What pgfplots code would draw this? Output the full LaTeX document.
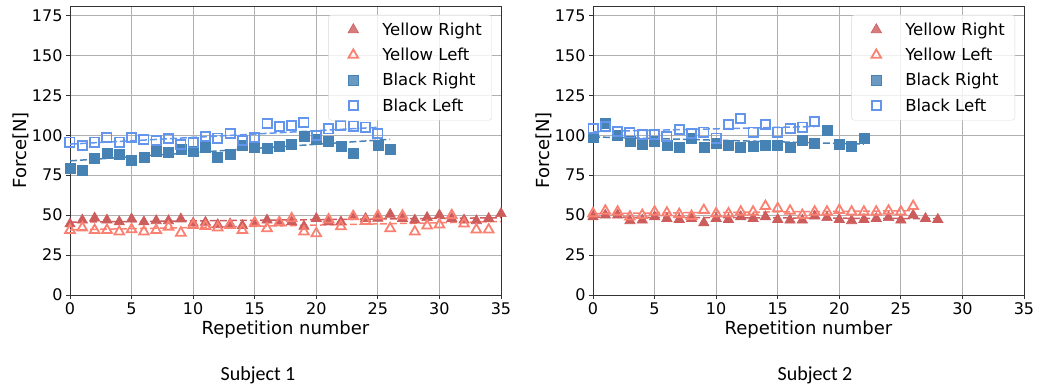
\documentclass[border=0pt]{standalone}
\usepackage{pgfplots}
\pgfplotsset{compat=1.18}
\usepackage{fontspec}
\setmainfont{DejaVu Sans}
\newfontfamily\subjfont{Carlito}

\definecolor{yr}{HTML}{CD5C5C}
\definecolor{yl}{HTML}{FA8072}
\definecolor{br}{HTML}{4682B4}
\definecolor{bl}{HTML}{6495ED}
\definecolor{gridc}{HTML}{B0B0B0}

\pgfplotsset{
  forceaxis/.style={
    scale only axis, width=431pt, height=289pt,
    xmin=0, xmax=35, ymin=0, ymax=181,
    xtick={0,5,...,35}, ytick={0,25,...,175},
    grid=major, major grid style={gridc, line width=0.8pt},
    axis line style={black!80, line width=0.9pt},
    tick align=outside, major tick length=4pt,
    tick style={black!80, line width=0.8pt},
    xtick pos=bottom, ytick pos=left,
    /pgf/number format/assume math mode=true,
    tick label style={font=\fontsize{16}{19}\selectfont},
    xlabel={Repetition number}, ylabel={Force[N]},
    every axis x label/.style={at={(axis description cs:0.5,0)}, anchor=center, yshift=-35pt},
    every axis y label/.style={at={(axis description cs:-0.1137,0.5)}, rotate=90, anchor=center},
    label style={font=\fontsize{18}{21}\selectfont},
    legend style={at={(axis description cs:1,1)}, anchor=north east,
      xshift=-9pt, yshift=-9pt, draw=black!15, rounded corners=3pt,
      fill=white, fill opacity=0.8, text opacity=1,
      font=\fontsize{16.5}{19}\selectfont,
      inner xsep=8pt, inner ysep=5.5pt, row sep=7.3pt},
    legend cell align=left,
    legend image code/.code={%
      \path[draw=none, fill=none] (0pt,-4pt) rectangle (44pt,4pt);
      \draw[mark repeat=2,mark phase=2] plot coordinates {(0pt,0pt)(17pt,0pt)(34pt,0pt)};},
  },
  trend/.style={dash pattern=on 7pt off 3pt, line width=1.5pt, forget plot},
  yright/.style={only marks, mark=triangle*, mark size=6pt, mark options={draw=yr, fill=yr, line width=0.6pt}},
  yleft/.style={only marks, mark=triangle, mark size=5.6pt, mark options={draw=yl, line width=1.8pt}},
  bright/.style={only marks, mark=square*, mark size=5pt, mark options={draw=br, fill=br, line width=0.6pt}},
  bleft/.style={only marks, mark=square, mark size=4.6pt, mark options={draw=bl, line width=1.8pt}},
}

\begin{document}
\begin{tikzpicture}
\useasboundingbox (0,0) rectangle (1037pt,387pt);

% ---------------- Subject 1 ----------------
\begin{axis}[forceaxis, at={(70pt,92pt)}, anchor=south west]
\addplot[yr, trend] coordinates {(0,45.6) (35,48.4)};
\addplot[yl, trend] coordinates {(0,40.8) (35,46.0)};
\addplot[br, trend] coordinates {(0,84.0) (26,97.5)};
\addplot[bl, trend] coordinates {(0,94.5) (25,105.0)};

\addplot[yright] coordinates {
(0,44.5) (1,46.9) (2,48.2) (3,46.9) (4,45.8) (5,47.6) (6,45.8) (7,46.5) (8,46.5)
(9,47.6) (10,45.0) (11,45.5) (12,44.0) (13,44.5) (14,43.5) (15,45.0) (16,46.9)
(17,45.2) (18,45.8) (19,43.0) (20,47.9) (21,45.8) (22,45.8) (23,49.0) (24,47.9)
(25,48.0) (26,50.5) (27,47.9) (28,46.9) (29,48.5) (30,50.0) (31,47.9) (32,46.9)
(33,46.5) (34,47.9) (35,51.0)};
\addlegendentry{Yellow Right}
\addplot[yleft] coordinates {
(0,40.6) (1,42.1) (2,40.6) (3,40.6) (4,39.6) (5,41.0) (6,39.6) (7,40.6) (8,42.7)
(9,38.9) (10,43.7) (11,43.1) (12,42.1) (13,43.7) (14,40.6) (15,45.2) (16,41.7)
(17,45.5) (18,47.9) (19,39.6) (20,38.5) (21,47.2) (22,42.9) (23,49.3) (24,46.3)
(25,49.6) (26,41.7) (27,49.6) (28,39.6) (29,43.4) (30,44.0) (31,49.9) (32,44.6)
(33,40.9) (34,40.9)};
\addlegendentry{Yellow Left}
\addplot[bright] coordinates {
(0,79.2) (1,78.3) (2,85.6) (3,88.5) (4,87.9) (5,84.3) (6,86.5) (7,89.8) (8,89.2)
(9,91.5) (10,90.0) (11,92.7) (12,86.5) (13,88.0) (14,94.0) (15,92.2) (16,91.8)
(17,92.9) (18,94.6) (19,99.2) (20,97.3) (21,96.2) (22,92.9) (23,88.5) (25,93.7)
(26,91.1)};
\addlegendentry{Black Right}
\addplot[bleft] coordinates {
(0,95.8) (1,93.8) (2,95.8) (3,98.5) (4,95.8) (5,98.5) (6,97.3) (7,96.9) (8,97.9)
(9,94.4) (10,95.2) (11,99.4) (12,98.3) (13,101.0) (14,96.6) (15,98.6) (16,107.3)
(17,105.4) (18,106.0) (19,108.1) (20,99.8) (21,104.0) (22,106.0) (23,105.8)
(24,105.2) (25,101.0)};
\addlegendentry{Black Left}
\end{axis}

% ---------------- Subject 2 ----------------
\begin{axis}[forceaxis, at={(593pt,92pt)}, anchor=south west]
\addplot[yr, trend] coordinates {(0,48.8) (28,47.8)};
\addplot[yl, trend] coordinates {(0,51.0) (26,52.8)};
\addplot[br, trend] coordinates {(0,99.0) (22,94.5)};
\addplot[bl, trend] coordinates {(0,102.3) (18,105.5)};

\addplot[yright] coordinates {
(0,49.0) (1,50.0) (2,50.0) (3,46.5) (4,46.9) (5,49.0) (6,47.9) (7,47.3) (8,47.9)
(9,45.2) (10,47.9) (11,47.3) (12,49.0) (13,47.9) (14,49.0) (15,47.3) (16,46.9)
(17,46.9) (18,49.4) (19,48.5) (20,47.3) (21,46.5) (22,47.3) (23,47.9) (24,48.5)
(25,46.9) (26,50.0) (27,47.9) (28,47.3)};
\addlegendentry{Yellow Right}
\addplot[yleft] coordinates {
(0,51.0) (1,52.7) (2,52.1) (3,49.0) (4,50.0) (5,52.1) (6,51.5) (7,50.6) (8,49.4)
(9,53.1) (10,51.0) (11,51.0) (12,52.1) (13,52.1) (14,55.6) (15,54.2) (16,52.7)
(17,50.0) (18,52.1) (19,52.1) (20,53.1) (21,52.1) (22,52.1) (23,52.1) (24,52.7)
(25,52.1) (26,55.6)};
\addlegendentry{Yellow Left}
\addplot[bright] coordinates {
(0,99.0) (1,107.3) (2,100.0) (3,96.5) (4,94.6) (5,96.2) (6,93.8) (7,92.7) (8,98.0)
(9,92.7) (10,94.8) (11,93.5) (12,92.6) (13,93.2) (14,93.8) (15,93.8) (16,92.7)
(17,96.9) (18,95.2) (19,103.3) (20,94.4) (21,93.1) (22,97.9)};
\addlegendentry{Black Right}
\addplot[bleft] coordinates {
(0,104.2) (1,105.6) (2,102.5) (3,101.5) (4,100.4) (5,100.4) (6,99.4) (7,103.5)
(8,101.0) (9,102.0) (10,98.3) (11,106.9) (12,110.4) (13,102.0) (14,106.9)
(15,102.0) (16,104.4) (17,105.2) (18,108.8)};
\addlegendentry{Black Left}
\end{axis}

\node[font=\subjfont\fontsize{20}{24}\selectfont] at (258pt,12pt) {Subject 1};
\node[font=\subjfont\fontsize{20}{24}\selectfont] at (815pt,12pt) {Subject 2};
\end{tikzpicture}
\end{document}
